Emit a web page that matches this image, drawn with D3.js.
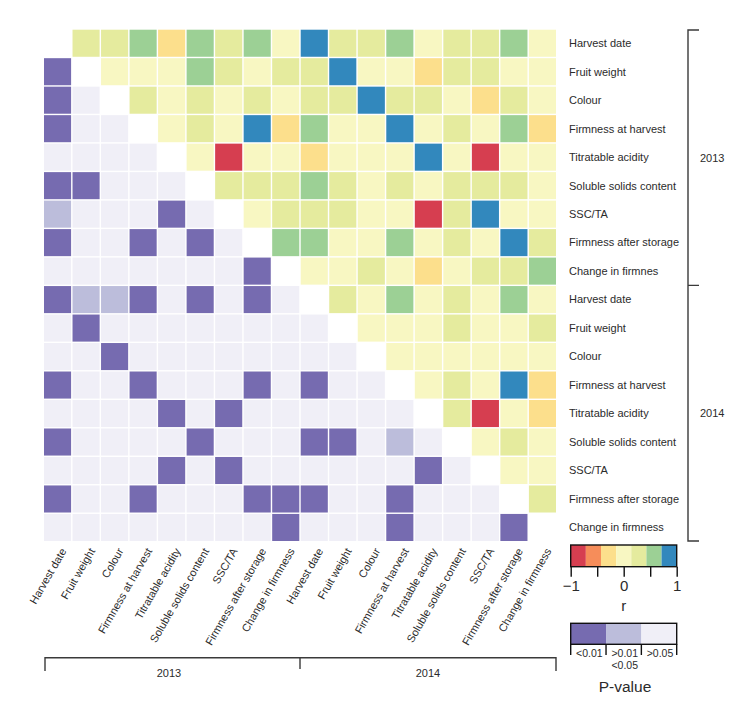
<!DOCTYPE html>
<html>
<head>
<meta charset="utf-8">
<script src="https://cdn.jsdelivr.net/npm/d3@7"></script>
<style>
  html, body { margin: 0; padding: 0; background: #fff; }
  svg { display: block; }
  text { font-family: "Liberation Sans", Arial, sans-serif; fill: #2b2b2b; }
</style>
</head>
<body>
<svg id="chart" width="749" height="703"></svg>
<script>
// ---------- data ----------
const years = ["2013", "2014"];
const variables = ["Harvest date", "Fruit weight", "Colour", "Firmness at harvest",
  "Titratable acidity", "Soluble solids content", "SSC/TA",
  "Firmness after storage", "Change in firmness"];
// right-hand row labels (as printed, incl. the original typo)
const rowLabels = ["Harvest date", "Fruit weight", "Colour", "Firmness at harvest",
  "Titratable acidity", "Soluble solids content", "SSC/TA", "Firmness after storage", "Change in firmnes",
  "Harvest date", "Fruit weight", "Colour", "Firmness at harvest",
  "Titratable acidity", "Soluble solids content", "SSC/TA", "Firmness after storage", "Change in firmness"];
// bottom column labels
const colLabels = variables.concat(variables);

// correlation r, upper triangle: row i holds columns i+1 .. 17
const rUpper = [
  [0.32, 0.28, 0.55, -0.30, 0.60, 0.30, 0.58, 0.08, 0.88, 0.25, 0.30, 0.52, 0.05, 0.20, 0.27, 0.50, 0.10],
  [0.10, 0.05, -0.05, 0.50, 0.30, 0.12, 0.25, 0.22, 0.85, 0.08, 0.02, -0.25, 0.20, 0.22, 0.05, 0.10],
  [0.35, 0.10, 0.20, 0.06, 0.24, 0.04, 0.20, 0.25, 0.90, 0.22, 0.28, 0.10, -0.28, 0.24, 0.08],
  [0.05, 0.30, 0.07, 0.80, -0.32, 0.50, 0.10, -0.02, 0.82, 0.05, 0.25, 0.12, 0.55, -0.30],
  [0.12, -0.82, 0.03, -0.08, -0.25, 0.10, 0.06, -0.05, 0.78, -0.10, -0.85, 0.02, -0.06],
  [0.30, 0.28, 0.33, 0.50, 0.25, 0.10, 0.20, 0.09, 0.30, 0.26, 0.22, 0.10],
  [0.04, 0.26, 0.30, 0.24, 0.12, -0.03, -0.80, 0.30, 0.83, 0.06, 0.11],
  [0.55, 0.60, 0.10, 0.05, 0.50, 0.07, 0.25, 0.12, 0.86, 0.30],
  [0.02, 0.08, 0.22, 0.05, -0.30, 0.10, 0.25, 0.30, 0.48],
  [0.32, 0.12, 0.58, 0.05, 0.28, 0.08, 0.62, 0.10],
  [0.06, 0.10, 0.04, 0.25, 0.08, 0.12, 0.30],
  [0.05, 0.10, 0.02, 0.07, 0.10, 0.04],
  [0.10, 0.30, 0.12, 0.85, -0.30],
  [0.24, -0.84, 0.08, -0.27],
  [0.10, 0.30, 0.06],
  [0.05, 0.12],
  [0.28],
  []
];

// P-values, lower triangle: row i holds columns 0 .. i-1
const pLower = [
  [],
  [0.002],
  [0.004, 0.31],
  [0.001, 0.42, 0.27],
  [0.55, 0.38, 0.71, 0.19],
  [0.003, 0.006, 0.44, 0.62, 0.35],
  [0.03, 0.51, 0.23, 0.66, 0.001, 0.28],
  [0.002, 0.47, 0.36, 0.001, 0.58, 0.005, 0.41],
  [0.61, 0.29, 0.74, 0.33, 0.52, 0.45, 0.68, 0.004],
  [0.001, 0.02, 0.03, 0.003, 0.39, 0.007, 0.25, 0.002, 0.57],
  [0.46, 0.001, 0.33, 0.59, 0.72, 0.28, 0.64, 0.37, 0.51, 0.22],
  [0.58, 0.43, 0.001, 0.66, 0.31, 0.49, 0.75, 0.26, 0.62, 0.35, 0.47],
  [0.002, 0.39, 0.53, 0.001, 0.44, 0.27, 0.61, 0.003, 0.36, 0.004, 0.55, 0.18],
  [0.48, 0.63, 0.29, 0.52, 0.001, 0.37, 0.002, 0.45, 0.71, 0.34, 0.58, 0.26, 0.41],
  [0.005, 0.42, 0.36, 0.61, 0.28, 0.003, 0.54, 0.47, 0.33, 0.006, 0.008, 0.39, 0.04, 0.22],
  [0.57, 0.31, 0.68, 0.44, 0.002, 0.49, 0.001, 0.36, 0.62, 0.27, 0.53, 0.45, 0.38, 0.004, 0.29],
  [0.001, 0.46, 0.35, 0.002, 0.58, 0.41, 0.63, 0.003, 0.006, 0.004, 0.32, 0.55, 0.001, 0.43, 0.37, 0.24],
  [0.52, 0.38, 0.61, 0.45, 0.33, 0.57, 0.29, 0.48, 0.002, 0.36, 0.64, 0.41, 0.003, 0.55, 0.27, 0.39, 0.005]
];

const rTicks = [-1, -0.5, 0, 0.5, 1];
const rTickLabels = ["\u22121", "", "0", "", "1"];
const pThresholds = [0.01, 0.05];
const pLabels = [["<0.01"], [">0.01", "<0.05"], [">0.05"]];

// ---------- colours ----------
const spectral = ["#d63e50", "#f68d5a", "#fcdf8c", "#f8f7c2", "#e5eb9e", "#9cd095", "#3288bd"];
const purples = ["#766bb0", "#bcbddb", "#f0eff7"];
const rColor = d3.scaleQuantize().domain([-1, 1]).range(spectral);
const pColor = d3.scaleThreshold().domain(pThresholds).range(purples);

// ---------- build cells ----------
const n = rowLabels.length;
const cells = [];
rUpper.forEach((row, i) => row.forEach((v, k) => cells.push({ row: i, col: i + 1 + k, fill: rColor(v) })));
pLower.forEach((row, i) => row.forEach((v, j) => cells.push({ row: i, col: j, fill: pColor(v) })));

const svg = d3.select("#chart");
const x = d3.scaleBand().domain(d3.range(n)).range([44, 556]).paddingInner(0.05);
const y = d3.scaleBand().domain(d3.range(n)).range([29.7, 541]).paddingInner(0.05);

svg.append("g").selectAll("rect").data(cells).join("rect")
  .attr("x", d => x(d.col)).attr("y", d => y(d.row))
  .attr("width", x.bandwidth()).attr("height", y.bandwidth())
  .attr("fill", d => d.fill);

// right labels
svg.append("g").selectAll("text").data(rowLabels).join("text")
  .attr("x", 569).attr("y", (d, i) => y(i) + y.bandwidth() / 2)
  .attr("dy", "0.35em").attr("font-size", 11).text(d => d);

// bottom labels
svg.append("g").selectAll("text").data(colLabels).join("text")
  .attr("transform", (d, i) => `translate(${x(i) + x.bandwidth() / 2 + 6},${549}) rotate(-60)`)
  .attr("text-anchor", "end").attr("dy", "0.35em").attr("font-size", 11).text(d => d);

// brackets
const stroke = "#3a3a3a";
const yMid = y(9) - (y.step() - y.bandwidth()) / 2;
svg.append("path")
  .attr("d", `M699,30 H688 V541 H699 M688,${yMid} H699`)
  .attr("fill", "none").attr("stroke", stroke).attr("stroke-width", 1.4);
const xMid = x(9) - (x.step() - x.bandwidth()) / 2;
svg.append("path")
  .attr("d", `M45,671 V657.7 H556 V671 M${xMid},657.7 V669`)
  .attr("fill", "none").attr("stroke", stroke).attr("stroke-width", 1.4);

svg.append("text").attr("x", 700).attr("y", (30 + yMid) / 2).attr("dy", "0.35em").attr("font-size", 11).text(years[0]);
svg.append("text").attr("x", 700).attr("y", (yMid + 541) / 2).attr("dy", "0.35em").attr("font-size", 11).text(years[1]);
svg.append("text").attr("x", 169).attr("y", 677).attr("text-anchor", "middle").attr("font-size", 11).text(years[0]);
svg.append("text").attr("x", (xMid + 556) / 2).attr("y", 677).attr("text-anchor", "middle").attr("font-size", 11).text(years[1]);

// ---------- r legend ----------
const lx = d3.scaleLinear().domain([-1, 1]).range([570.7, 676.7]);
const lg = svg.append("g");
lg.selectAll("rect").data(spectral).join("rect")
  .attr("x", d => lx(rColor.invertExtent(d)[0])).attr("y", 545)
  .attr("width", d => lx(rColor.invertExtent(d)[1]) - lx(rColor.invertExtent(d)[0]))
  .attr("height", 21.7).attr("fill", d => d);
lg.append("rect").attr("x", 570.7).attr("y", 545).attr("width", 106).attr("height", 21.7)
  .attr("fill", "none").attr("stroke", "#111").attr("stroke-width", 1.4);
const ax = lg.append("g").attr("transform", "translate(0,566.7)")
  .call(d3.axisBottom(lx).tickValues(rTicks).tickSize(10).tickPadding(4)
    .tickFormat((d, i) => rTickLabels[i]));
ax.select(".domain").remove();
ax.selectAll("line").attr("stroke", "#111").attr("stroke-width", 1.4);
ax.selectAll("text").attr("font-size", 15).attr("font-family", "Liberation Sans, Arial, sans-serif").attr("fill", "#2b2b2b");
lg.append("text").attr("x", 623.7).attr("y", 611).attr("text-anchor", "middle").attr("font-size", 15).text("r");

// ---------- P legend ----------
const px = d3.scaleBand().domain(d3.range(purples.length)).range([570.7, 676.7]);
const pg = svg.append("g");
pg.selectAll("rect").data(purples).join("rect")
  .attr("x", (d, i) => px(i)).attr("y", 623.3).attr("width", px.bandwidth()).attr("height", 21)
  .attr("fill", d => d);
pg.append("rect").attr("x", 570.7).attr("y", 623.3).attr("width", 106).attr("height", 21)
  .attr("fill", "none").attr("stroke", "#111").attr("stroke-width", 1.4);
pg.selectAll("line").data(d3.range(purples.length + 1)).join("line")
  .attr("x1", i => 570.7 + i * px.bandwidth()).attr("x2", i => 570.7 + i * px.bandwidth())
  .attr("y1", 644.3).attr("y2", 655).attr("stroke", "#111").attr("stroke-width", 1.4);
pLabels.forEach((lines, i) => {
  lines.forEach((t, k) => {
    pg.append("text").attr("x", px(i) + px.bandwidth() / 2 + 1).attr("y", 656.5 + k * 12.6)
      .attr("text-anchor", "middle").attr("font-size", 10.5).text(t);
  });
});
pg.append("text").attr("x", 625).attr("y", 692).attr("text-anchor", "middle").attr("font-size", 15.5).text("P-value");
</script>
</body>
</html>
